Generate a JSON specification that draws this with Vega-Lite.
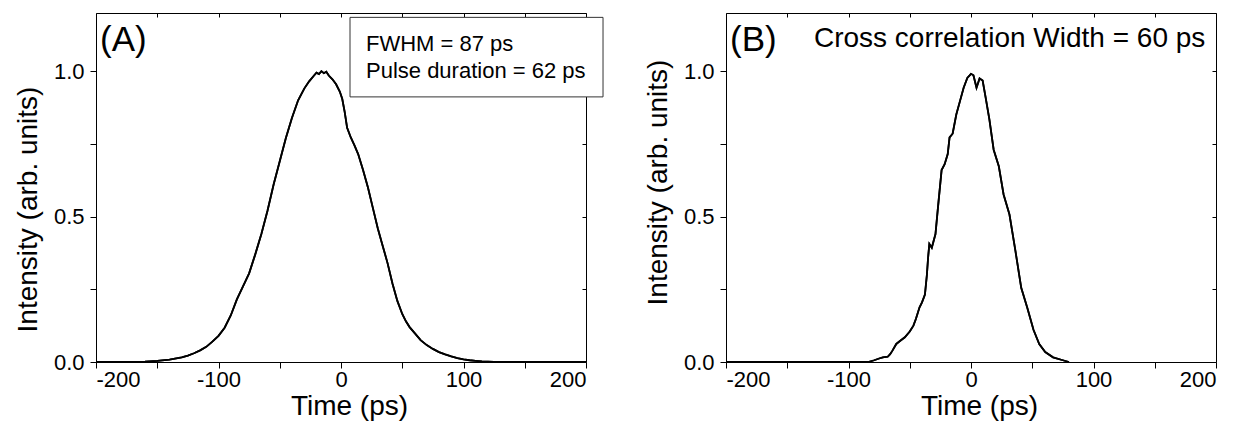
{
  "$schema": "https://vega.github.io/schema/vega-lite/v6.json",
  "padding": {"left": 14, "top": 12, "right": 10, "bottom": 4},
  "background": "white",
  "spacing": 140,
  "bounds": "flush",
  "config": {
    "font": "Liberation Sans",
    "view": {"stroke": null},
    "axis": {
      "grid": false,
      "domainColor": "black",
      "domainWidth": 1,
      "tickColor": "black",
      "tickWidth": 1,
      "tickSize": 6,
      "labelColor": "black",
      "titleColor": "black",
      "labelFont": "Liberation Sans",
      "titleFont": "Liberation Sans",
      "labelFontSize": 22,
      "titleFontSize": 28,
      "titleFontWeight": "normal"
    }
  },
  "datasets": {
    "pulseA": [
      {"t": -200, "v": 0.0}, {"t": -170, "v": 0.0}, {"t": -160, "v": 0.001}, {"t": -150, "v": 0.004},
      {"t": -140, "v": 0.008}, {"t": -130, "v": 0.016}, {"t": -125, "v": 0.022}, {"t": -120, "v": 0.03},
      {"t": -115, "v": 0.04}, {"t": -110, "v": 0.052}, {"t": -105, "v": 0.07}, {"t": -100, "v": 0.09},
      {"t": -95, "v": 0.118}, {"t": -90, "v": 0.16}, {"t": -85, "v": 0.215}, {"t": -80, "v": 0.26},
      {"t": -75, "v": 0.305}, {"t": -70, "v": 0.37}, {"t": -65, "v": 0.44}, {"t": -60, "v": 0.52},
      {"t": -55, "v": 0.61}, {"t": -50, "v": 0.69}, {"t": -45, "v": 0.77}, {"t": -40, "v": 0.84},
      {"t": -35, "v": 0.9}, {"t": -30, "v": 0.94}, {"t": -26, "v": 0.965}, {"t": -22, "v": 0.985},
      {"t": -20, "v": 0.995}, {"t": -18, "v": 0.99}, {"t": -16, "v": 1.0}, {"t": -14, "v": 0.993},
      {"t": -12, "v": 0.998}, {"t": -10, "v": 0.985}, {"t": -7, "v": 0.972}, {"t": -4, "v": 0.955},
      {"t": -1, "v": 0.93}, {"t": 1, "v": 0.905}, {"t": 3, "v": 0.86}, {"t": 5, "v": 0.805},
      {"t": 8, "v": 0.772}, {"t": 11, "v": 0.745}, {"t": 14, "v": 0.715}, {"t": 18, "v": 0.66},
      {"t": 22, "v": 0.6}, {"t": 26, "v": 0.53}, {"t": 30, "v": 0.46}, {"t": 34, "v": 0.4},
      {"t": 38, "v": 0.34}, {"t": 42, "v": 0.27}, {"t": 46, "v": 0.21}, {"t": 50, "v": 0.165},
      {"t": 53, "v": 0.14}, {"t": 56, "v": 0.12}, {"t": 60, "v": 0.1}, {"t": 65, "v": 0.075},
      {"t": 70, "v": 0.058}, {"t": 75, "v": 0.045}, {"t": 80, "v": 0.034}, {"t": 85, "v": 0.026},
      {"t": 90, "v": 0.019}, {"t": 95, "v": 0.013}, {"t": 100, "v": 0.009}, {"t": 105, "v": 0.006},
      {"t": 110, "v": 0.004}, {"t": 115, "v": 0.002}, {"t": 120, "v": 0.001}, {"t": 125, "v": 0.0},
      {"t": 200, "v": 0.0}
    ],
    "pulseB": [
      {"t": -200, "v": 0.0}, {"t": -84, "v": 0.0}, {"t": -79, "v": 0.006}, {"t": -75, "v": 0.012},
      {"t": -72, "v": 0.016}, {"t": -68, "v": 0.018}, {"t": -66, "v": 0.027}, {"t": -64, "v": 0.04},
      {"t": -61, "v": 0.062}, {"t": -58, "v": 0.072}, {"t": -54, "v": 0.085}, {"t": -50, "v": 0.105},
      {"t": -47, "v": 0.125}, {"t": -45, "v": 0.148}, {"t": -42, "v": 0.188}, {"t": -40, "v": 0.205},
      {"t": -37.6, "v": 0.232}, {"t": -36, "v": 0.3}, {"t": -35, "v": 0.36}, {"t": -34, "v": 0.406},
      {"t": -32, "v": 0.393}, {"t": -29, "v": 0.44}, {"t": -27, "v": 0.53}, {"t": -24, "v": 0.66},
      {"t": -21.5, "v": 0.68}, {"t": -19, "v": 0.715}, {"t": -17.5, "v": 0.772}, {"t": -15, "v": 0.785},
      {"t": -12, "v": 0.851}, {"t": -9, "v": 0.897}, {"t": -6, "v": 0.943}, {"t": -3, "v": 0.977},
      {"t": 0, "v": 0.991}, {"t": 2, "v": 0.986}, {"t": 3.5, "v": 0.96}, {"t": 4.5, "v": 0.943},
      {"t": 7, "v": 0.975}, {"t": 9.5, "v": 0.968}, {"t": 12, "v": 0.908}, {"t": 15, "v": 0.834},
      {"t": 18.5, "v": 0.73}, {"t": 22.7, "v": 0.673}, {"t": 26.6, "v": 0.576}, {"t": 31.4, "v": 0.507},
      {"t": 36.3, "v": 0.381}, {"t": 41, "v": 0.255}, {"t": 46, "v": 0.186}, {"t": 51, "v": 0.111},
      {"t": 55.7, "v": 0.062}, {"t": 60.6, "v": 0.034}, {"t": 67, "v": 0.016}, {"t": 75, "v": 0.006},
      {"t": 80, "v": 0.0}
    ],
    "boxA": [{"x0": 7.35, "x1": 213.9, "y0": 1.185, "y1": 0.9115}],
    "notesA": [
      {"t": -196.7, "v": 1.068, "label": "(A)", "kind": "panel"},
      {"t": 20.4, "v": 1.071, "label": "FWHM = 87 ps", "kind": "box"},
      {"t": 20.4, "v": 0.978, "label": "Pulse duration = 62 ps", "kind": "box"}
    ],
    "notesB": [
      {"t": -196.7, "v": 1.068, "label": "(B)", "kind": "panel"},
      {"t": -128.2, "v": 1.0815, "label": "Cross correlation Width = 60 ps", "kind": "head"}
    ]
  },
  "hconcat": [
    {
      "width": 490,
      "height": 349,
      "resolve": {"axis": {"x": "independent", "y": "independent"}},
      "layer": [
        {
          "data": {"name": "pulseA"},
          "mark": {"type": "line", "color": "black", "strokeWidth": 1.8},
          "encoding": {
            "x": {"field": "t", "type": "quantitative",
              "scale": {"domain": [-200, 200], "nice": false, "zero": false},
              "axis": {"orient": "bottom", "title": "Time (ps)", "values": [-200, -150, -100, -50, 0, 50, 100, 150, 200],
                "labelExpr": "datum.value % 100 === 0 ? '' + datum.value : ''", "labelPadding": 1,
                "titleX": 253, "titleY": 52, "titleBaseline": "alphabetic"}},
            "y": {"field": "v", "type": "quantitative",
              "scale": {"domain": [0, 1.2], "nice": false},
              "axis": {"orient": "left", "title": "Intensity (arb. units)", "values": [0, 0.25, 0.5, 0.75, 1.0],
                "labelExpr": "datum.value % 0.5 === 0 ? format(datum.value, '.1f') : ''", "labelPadding": 6,
                "titlePadding": 11, "titleY": 196}}
          }
        },
        {
          "data": {"name": "pulseA"},
          "mark": {"type": "line", "color": "black", "strokeWidth": 1.8},
          "encoding": {
            "x": {"field": "t", "type": "quantitative",
              "axis": {"orient": "top", "title": null, "labels": false, "tickSize": -4, "values": [-200, -150, -100, -50, 0, 50, 100, 150, 200]}},
            "y": {"field": "v", "type": "quantitative",
              "axis": {"orient": "right", "title": null, "labels": false, "tickSize": -4, "values": [0, 0.25, 0.5, 0.75, 1.0]}}
          }
        },
        {
          "data": {"name": "boxA"},
          "mark": {"type": "rect", "fill": "white", "stroke": "#333333", "strokeWidth": 1},
          "encoding": {
            "x": {"field": "x0", "type": "quantitative", "axis": null},
            "x2": {"field": "x1"},
            "y": {"field": "y0", "type": "quantitative", "axis": null},
            "y2": {"field": "y1"}
          }
        },
        {
          "data": {"name": "notesA"},
          "transform": [{"filter": "datum.kind === 'box'"}],
          "mark": {"type": "text", "align": "left", "baseline": "alphabetic", "fontSize": 22, "color": "black", "font": "Liberation Sans"},
          "encoding": {
            "x": {"field": "t", "type": "quantitative", "axis": null},
            "y": {"field": "v", "type": "quantitative", "axis": null},
            "text": {"field": "label"}
          }
        },
        {
          "data": {"name": "notesA"},
          "transform": [{"filter": "datum.kind === 'panel'"}],
          "mark": {"type": "text", "align": "left", "baseline": "alphabetic", "fontSize": 35, "color": "black", "font": "Liberation Sans"},
          "encoding": {
            "x": {"field": "t", "type": "quantitative", "axis": null},
            "y": {"field": "v", "type": "quantitative", "axis": null},
            "text": {"field": "label"}
          }
        }
      ]
    },
    {
      "width": 490,
      "height": 349,
      "resolve": {"axis": {"x": "independent", "y": "independent"}},
      "layer": [
        {
          "data": {"name": "pulseB"},
          "mark": {"type": "line", "color": "black", "strokeWidth": 1.8},
          "encoding": {
            "x": {"field": "t", "type": "quantitative",
              "scale": {"domain": [-200, 200], "nice": false, "zero": false},
              "axis": {"orient": "bottom", "title": "Time (ps)", "values": [-200, -150, -100, -50, 0, 50, 100, 150, 200],
                "labelExpr": "datum.value % 100 === 0 ? '' + datum.value : ''", "labelPadding": 1,
                "titleX": 253, "titleY": 52, "titleBaseline": "alphabetic"}},
            "y": {"field": "v", "type": "quantitative",
              "scale": {"domain": [0, 1.2], "nice": false},
              "axis": {"orient": "left", "title": "Intensity (arb. units)", "values": [0, 0.25, 0.5, 0.75, 1.0],
                "labelExpr": "datum.value % 0.5 === 0 ? format(datum.value, '.1f') : ''", "labelPadding": 6,
                "titlePadding": 11, "titleY": 169}}
          }
        },
        {
          "data": {"name": "pulseB"},
          "mark": {"type": "line", "color": "black", "strokeWidth": 1.8},
          "encoding": {
            "x": {"field": "t", "type": "quantitative",
              "axis": {"orient": "top", "title": null, "labels": false, "tickSize": -4, "values": [-200, -150, -100, -50, 0, 50, 100, 150, 200]}},
            "y": {"field": "v", "type": "quantitative",
              "axis": {"orient": "right", "title": null, "labels": false, "tickSize": -4, "values": [0, 0.25, 0.5, 0.75, 1.0]}}
          }
        },
        {
          "data": {"name": "notesB"},
          "transform": [{"filter": "datum.kind === 'head'"}],
          "mark": {"type": "text", "align": "left", "baseline": "alphabetic", "fontSize": 28, "color": "black", "font": "Liberation Sans"},
          "encoding": {
            "x": {"field": "t", "type": "quantitative", "axis": null},
            "y": {"field": "v", "type": "quantitative", "axis": null},
            "text": {"field": "label"}
          }
        },
        {
          "data": {"name": "notesB"},
          "transform": [{"filter": "datum.kind === 'panel'"}],
          "mark": {"type": "text", "align": "left", "baseline": "alphabetic", "fontSize": 35, "color": "black", "font": "Liberation Sans"},
          "encoding": {
            "x": {"field": "t", "type": "quantitative", "axis": null},
            "y": {"field": "v", "type": "quantitative", "axis": null},
            "text": {"field": "label"}
          }
        }
      ]
    }
  ]
}
